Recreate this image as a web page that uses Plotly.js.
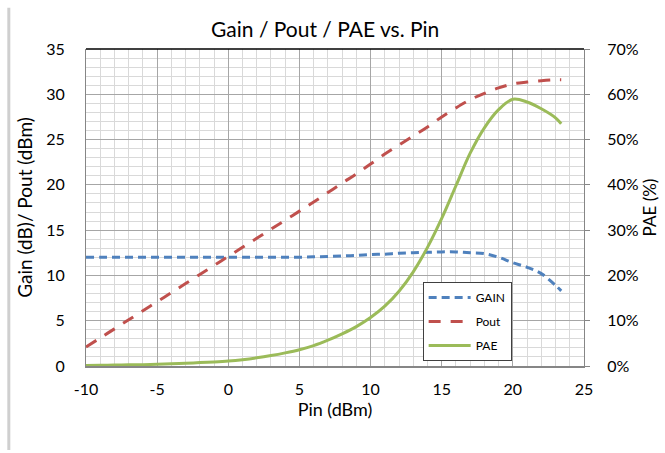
<!DOCTYPE html>
<html>
<head>
<meta charset="utf-8">
<script src="https://cdn.plot.ly/plotly-3.0.1.min.js"></script>
<style>html,body{margin:0;padding:0;background:#fff;}#chart{width:665px;height:453px;}</style>
</head>
<body>
<div id="chart"></div>
<script>
const pin  = [-10,-9,-8,-7,-6,-5,-4,-3,-2,-1,0,1,2,3,4,5,6,7,8,9,10,11,12,13,14,15,16,17,18,19,20,21,22,23,23.4];
const gain = [12.0,12.0,12.0,12.0,12.0,12.0,12.0,12.0,12.0,12.0,12.0,12.0,12.0,12.0,12.0,12.0,12.05,12.1,12.15,12.2,12.3,12.35,12.45,12.5,12.55,12.6,12.6,12.5,12.4,12.0,11.4,10.9,10.2,8.9,8.3];
const pout = [2.1,3.1,4.1,5.1,6.1,7.1,8.1,9.1,10.1,11.1,12.1,13.1,14.1,15.1,16.1,17.1,18.1,19.15,20.2,21.2,22.3,23.4,24.4,25.4,26.4,27.5,28.5,29.4,30.1,30.7,31.15,31.35,31.5,31.6,31.6];
const pae  = [0.1,0.15,0.2,0.25,0.3,0.4,0.5,0.6,0.75,0.9,1.1,1.4,1.8,2.3,2.9,3.6,4.5,5.7,7.1,8.7,10.7,13.2,16.5,20.8,26.2,32.6,39.8,47.0,52.6,56.6,58.9,58.3,56.8,54.8,53.5];
const seriesNames = ['GAIN','Pout','PAE'];
const chartTitle = 'Gain / Pout / PAE vs. Pin';
const xTickVals = [-10,-5,0,5,10,15,20,25];
const xTickText = ['-10','-5','0','5','10','15','20','25'];

const FONT = 'Lato, "Open Sans", sans-serif';
const traces = [
  {x: pin, y: gain, name: seriesNames[0], legendgroup: 'g1', type: 'scatter', mode: 'lines',
   line: {color: '#4F81BD', width: 3, dash: '8px,5px', shape: 'spline'}},
  {x: pin, y: pout, name: seriesNames[1], legendgroup: 'g2', type: 'scatter', mode: 'lines',
   line: {color: '#C0504D', width: 3, dash: '12px,10px', shape: 'spline'}},
  {x: pin, y: pae, name: seriesNames[2], legendgroup: 'g3', type: 'scatter', mode: 'lines', yaxis: 'y2',
   line: {color: '#9BBB59', width: 3, shape: 'spline'}}
];

const layout = {
  width: 665, height: 453,
  margin: {l: 86, r: 81, t: 49, b: 87},
  paper_bgcolor: '#fff', plot_bgcolor: '#fff',
  font: {family: FONT, color: '#000'},
  title: {text: chartTitle, font: {size: 21, family: FONT, color: '#000'}, x: 0.489, xanchor: 'center', y: 0.935, yanchor: 'middle'},
  xaxis: {
    range: [-10, 25], tickmode: 'array', tickvals: xTickVals, ticktext: xTickText, zeroline: false,
    showgrid: true, gridcolor: '#a6a6a6', gridwidth: 1,
    minor: {dtick: 1, tick0: 0, showgrid: true, gridcolor: '#d9d9d9', gridwidth: 1},
    showline: true, linecolor: '#868686', linewidth: 2, mirror: false,
    ticks: 'outside', ticklen: 8, tickcolor: 'rgba(0,0,0,0)',
    tickfont: {size: 16, family: FONT},
    title: {text: 'Pin (dBm)', font: {size: 18, family: FONT}, standoff: 6}
  },
  yaxis: {
    range: [0, 35], dtick: 5, zeroline: false,
    showgrid: true, gridcolor: '#a6a6a6', gridwidth: 1,
    minor: {dtick: 1, showgrid: true, gridcolor: '#d9d9d9', gridwidth: 1},
    showline: true, linecolor: '#868686', linewidth: 1,
    ticks: 'outside', ticklen: 17, tickcolor: 'rgba(0,0,0,0)',
    tickfont: {size: 16, family: FONT},
    title: {text: 'Gain (dB)/ Pout (dBm)', font: {size: 19, family: FONT}, standoff: 8}
  },
  yaxis2: {
    overlaying: 'y', side: 'right', range: [0, 70], dtick: 10,
    ticksuffix: '%', showgrid: false, zeroline: false,
    showline: true, linecolor: '#868686', linewidth: 1,
    ticks: 'outside', ticklen: 5, tickcolor: '#868686',
    ticklabelstandoff: 14,
    tickfont: {size: 16, family: FONT},
    title: {text: 'PAE (%)', font: {size: 17, family: FONT}, standoff: 6}
  },
  showlegend: true,
  legend: {
    x: 0.676, y: 0.265, xanchor: 'left', yanchor: 'top',
    bgcolor: '#fff', bordercolor: '#404040', borderwidth: 1,
    font: {size: 12, family: FONT}, tracegroupgap: 5, itemwidth: 42
  },
  shapes: [
    {type: 'line', xref: 'paper', yref: 'paper', x0: 0, x1: 1, y0: 1, y1: 1, line: {color: '#000', width: 1.5}},
    {type: 'line', xref: 'paper', yref: 'paper', x0: -0.155, x1: -0.155, y0: -0.265, y1: 1.13, line: {color: '#cfcfcf', width: 3}}
  ]
};

Plotly.newPlot('chart', traces, layout, {displayModeBar: false, staticPlot: true});
</script>
</body>
</html>
